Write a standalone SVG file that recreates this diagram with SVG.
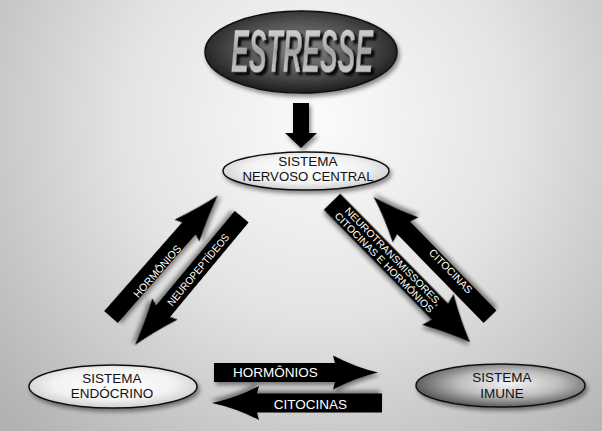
<svg xmlns="http://www.w3.org/2000/svg" width="602" height="431" viewBox="0 0 602 431">
<defs>
<radialGradient id="bg" gradientUnits="userSpaceOnUse" cx="320" cy="120" r="430">
<stop offset="0" stop-color="#fbfbfb"/>
<stop offset="0.45" stop-color="#e4e4e4"/>
<stop offset="1" stop-color="#b2b2b2"/>
</radialGradient>
<radialGradient id="gStress" cx="0.5" cy="0.45" r="0.6">
<stop offset="0" stop-color="#8a8a8a"/>
<stop offset="0.6" stop-color="#4a4a4a"/>
<stop offset="1" stop-color="#111"/>
</radialGradient>
<linearGradient id="gStressTxt" x1="0" y1="0" x2="0" y2="1">
<stop offset="0" stop-color="#ececec"/>
<stop offset="0.5" stop-color="#a4a4a4"/>
<stop offset="1" stop-color="#dcdcdc"/>
</linearGradient>
<radialGradient id="gWhite" cx="0.5" cy="0.45" r="0.6">
<stop offset="0" stop-color="#ffffff"/>
<stop offset="0.6" stop-color="#f2f2f2"/>
<stop offset="1" stop-color="#c4c4c4"/>
</radialGradient>
<radialGradient id="gImune" cx="0.55" cy="0.45" r="0.6">
<stop offset="0" stop-color="#f4f4f4"/>
<stop offset="0.5" stop-color="#bdbdbd"/>
<stop offset="1" stop-color="#4a4a4a"/>
</radialGradient>
<filter id="sh" x="-20%" y="-20%" width="140%" height="160%">
<feGaussianBlur in="SourceAlpha" stdDeviation="2"/>
<feOffset dx="2" dy="3" result="b"/>
<feComponentTransfer><feFuncA type="linear" slope="0.45"/></feComponentTransfer>
<feMerge><feMergeNode/><feMergeNode in="SourceGraphic"/></feMerge>
</filter>
<filter id="txtsh" x="-10%" y="-20%" width="130%" height="150%">
<feOffset in="SourceAlpha" dx="2.5" dy="3" result="o"/>
<feGaussianBlur in="o" stdDeviation="0.8"/>
<feComponentTransfer><feFuncA type="linear" slope="0.9"/></feComponentTransfer>
<feMerge><feMergeNode/><feMergeNode in="SourceGraphic"/></feMerge>
</filter>
</defs>
<style>
.arrow{fill:#000;filter:url(#sh)}
.ell{stroke:#111;stroke-width:1.5;filter:url(#sh)}
.lbl{font-family:"Liberation Sans",Arial,sans-serif;font-size:13.5px;fill:#111;text-anchor:middle}
.atxt{font-family:"Liberation Sans",Arial,sans-serif;fill:#fff;text-anchor:middle;dominant-baseline:central}
.big{font-size:13.5px}
.sm{font-size:10.5px}
</style>
<rect width="602" height="431" fill="url(#bg)"/>

<g id="estresse">
<ellipse class="ell" cx="301" cy="52" rx="96" ry="41" fill="url(#gStress)" stroke="#222"/>
<text x="302" y="72" font-family="'Liberation Sans Narrow','Liberation Sans',Arial,sans-serif" font-size="61" font-weight="bold" font-style="italic" text-anchor="middle" textLength="142" lengthAdjust="spacingAndGlyphs" fill="url(#gStressTxt)" stroke="#555" stroke-width="0.6" filter="url(#txtsh)">ESTRESSE</text>
</g>

<g id="snc">
<ellipse class="ell" cx="306" cy="171" rx="83" ry="19" fill="url(#gWhite)"/>
<text class="lbl" x="308" y="166">SISTEMA</text>
<text class="lbl" x="308" y="181" textLength="131" lengthAdjust="spacingAndGlyphs">NERVOSO CENTRAL</text>
</g>

<g id="endocrino">
<ellipse class="ell" cx="113" cy="386.5" rx="84" ry="21.5" fill="url(#gWhite)"/>
<text class="lbl" x="112" y="383">SISTEMA</text>
<text class="lbl" x="112" y="398">ENDÓCRINO</text>
</g>

<g id="imune">
<ellipse class="ell" cx="500.5" cy="385.5" rx="84.5" ry="21.5" fill="url(#gImune)"/>
<text class="lbl" x="502" y="382">SISTEMA</text>
<text class="lbl" x="502" y="398">IMUNE</text>
</g>

<g id="connectors">
<!-- stress -> SNC -->
<path class="arrow" d="M293,103 L309,103 L309,133 L317,133 L301,148 L285,133 L293,133 Z"/>

<!-- Left: HORMONIOS up-right -->
<g transform="translate(111,317) rotate(-48.7)">
<path class="arrow" d="M0,-9 L118,-9 L115,-16.5 Q140,-6 162,0 Q140,6 115,16.5 L118,9 L0,9 Z"/>
</g>
<text class="atxt sm" transform="translate(157,271) rotate(-48.7)">HORMÔNIOS</text>

<!-- Left: NEUROPEPTIDEOS down-left -->
<g transform="translate(241.7,216.7) rotate(129.75)">
<path class="arrow" d="M0,-9 L123,-9 L120,-16.5 Q145,-6 167,0 Q145,6 120,16.5 L123,9 L0,9 Z"/>
</g>
<text class="atxt sm" transform="translate(198,269.5) rotate(-50.25)" textLength="90" lengthAdjust="spacingAndGlyphs">NEUROPEPTÍDEOS</text>

<!-- Right: NEURO... down-right -->
<g transform="translate(332,201.7) rotate(45.5)">
<path class="arrow" d="M0,-11.5 L154,-11.5 L151,-22 Q176,-8 197,0 Q176,8 151,22 L154,11.5 L0,11.5 Z"/>
<text class="atxt" font-size="10" x="82" y="-5.3" textLength="133" lengthAdjust="spacingAndGlyphs">NEUROTRANSMISSORES,</text>
<text class="atxt" font-size="10" x="80" y="5.5" textLength="136" lengthAdjust="spacingAndGlyphs">CITOCINAS E HORMÔNIOS</text>
</g>

<!-- Right: CITOCINAS up-left -->
<g transform="translate(490,316.7) rotate(-134.2)">
<path class="arrow" d="M0,-9 L124,-9 L121,-18 Q146,-6 167,0 Q146,6 121,18 L124,9 L0,9 Z"/>
</g>
<text class="atxt sm" transform="translate(451,271) rotate(45.8)">CITOCINAS</text>

<!-- Bottom: HORMONIOS right -->
<g transform="translate(214,372.5)">
<path class="arrow" d="M0,-9.5 L121,-9.5 L119,-17 Q142,-5 164,0 Q142,5 119,17 L121,9.5 L0,9.5 Z"/>
</g>
<text class="atxt big" x="275.5" y="372">HORMÔNIOS</text>

<!-- Bottom: CITOCINAS left -->
<g transform="translate(382,403) rotate(180)">
<path class="arrow" d="M0,-9.5 L125,-9.5 L123,-17 Q146,-5 170,0 Q146,5 123,17 L125,9.5 L0,9.5 Z"/>
</g>
<text class="atxt big" x="310.5" y="404.5">CITOCINAS</text>
</g>
</svg>
